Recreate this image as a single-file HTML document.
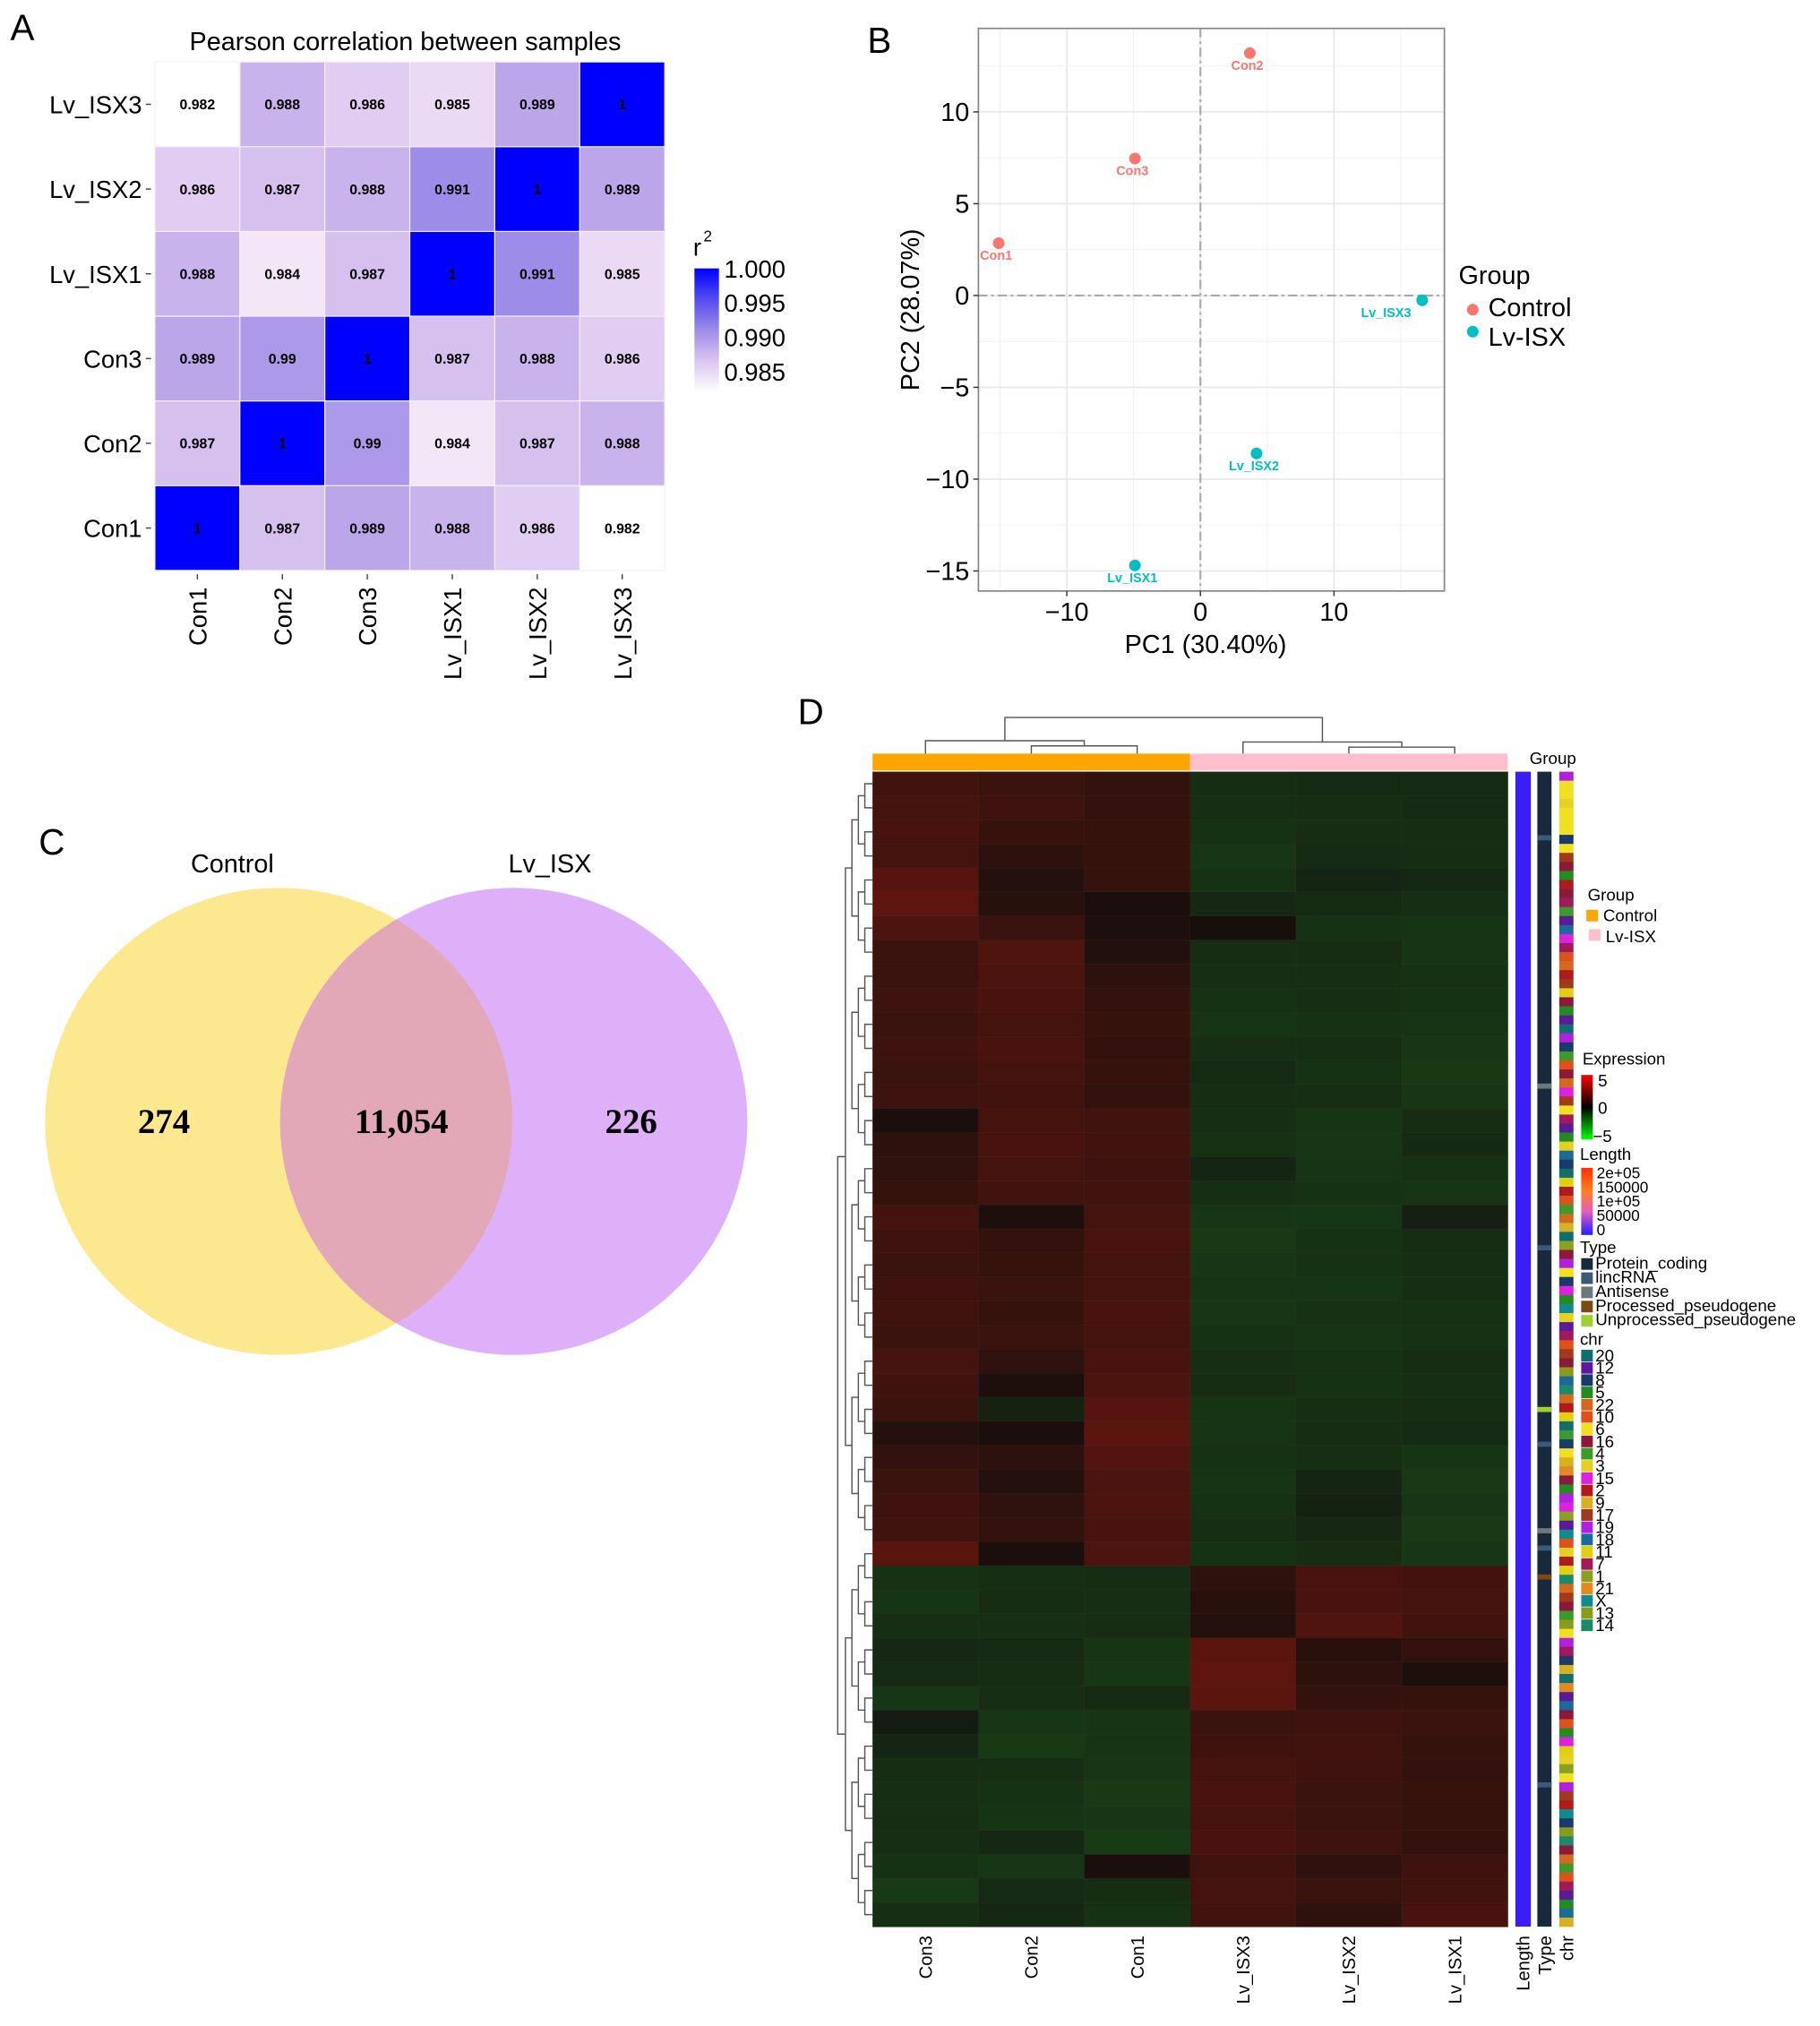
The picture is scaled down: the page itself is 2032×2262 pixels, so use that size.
<!DOCTYPE html>
<html><head><meta charset="utf-8"><style>
html,body{margin:0;padding:0;background:#fff}
svg{display:block}
text{font-family:"Liberation Sans",Arial,sans-serif}
</style></head><body>
<svg id="fig" xmlns="http://www.w3.org/2000/svg" width="2032" height="2262" viewBox="0 0 1410 1570" preserveAspectRatio="none">
<rect x="0" y="0" width="1410" height="1570" fill="#fff"/>
<g id="A"></g>
<g id="B"></g>
<g id="C"></g>
<g id="D"></g>
</svg>
<script>
// ---------- Panel A data ----------
const corrSamples = ["Con1","Con2","Con3","Lv_ISX1","Lv_ISX2","Lv_ISX3"];
const corrCon1 = [1,0.987,0.989,0.988,0.986,0.982];
const corrCon2 = [0.987,1,0.99,0.984,0.987,0.988];
const corrCon3 = [0.989,0.99,1,0.987,0.988,0.986];
const corrISX1 = [0.988,0.984,0.987,1,0.991,0.985];
const corrISX2 = [0.986,0.987,0.988,0.991,1,0.989];
const corrISX3 = [0.982,0.988,0.986,0.985,0.989,1];
const corrTicks = [1.000,0.995,0.990,0.985];
// ---------- Panel B data ----------
const pcaLabels = ["Con1","Con2","Con3","Lv_ISX1","Lv_ISX2","Lv_ISX3"];
const pcaX = [-15.1,3.7,-4.9,-4.9,4.2,16.6];
const pcaY = [2.85,13.2,7.46,-14.7,-8.6,-0.26];
const pcaGroup = ["Control","Control","Control","Lv-ISX","Lv-ISX","Lv-ISX"];
const pcaXTicks = [-10,0,10];
const pcaYTicks = [10,5,0,-5,-10,-15];
// ---------- Panel C data ----------
const vennSets = ["Control","Lv_ISX"];
const vennCounts = ["274","11,054","226"];
// ---------- Panel D data ----------
const hmSamples = ["Con3","Con2","Con1","Lv_ISX3","Lv_ISX2","Lv_ISX1"];
const hmRows = [
[1.2,1.0,0.8,-0.8,-0.7,-0.7],[1.3,1.1,0.8,-0.9,-0.8,-0.7],[1.4,0.9,0.9,-1.0,-0.8,-0.8],[1.3,0.6,0.9,-1.2,-0.7,-0.8],
[1.8,0.4,0.9,-1.0,-0.5,-0.6],[2.0,0.5,0.1,-0.6,-0.7,-0.9],[1.5,1.0,0.2,0.0,-1.0,-1.1],[1.0,1.6,0.3,-0.8,-0.8,-1.1],
[1.0,1.5,0.6,-0.9,-0.9,-1.0],[1.1,1.4,0.8,-1.0,-0.9,-1.0],[1.0,1.3,0.9,-1.1,-1.0,-1.1],[1.1,1.4,0.8,-0.9,-0.9,-1.2],
[1.0,1.3,0.9,-0.7,-1.0,-1.3],[1.1,1.2,0.8,-0.8,-0.9,-1.2],[0.1,1.3,1.2,-0.9,-1.1,-0.8],[0.6,1.4,1.2,-1.0,-1.2,-0.7],
[0.7,1.3,1.1,-0.5,-1.1,-1.0],[0.9,1.2,1.2,-0.9,-1.0,-1.1],[1.3,0.2,1.3,-1.2,-1.2,-0.3],[1.1,0.8,1.4,-1.3,-1.0,-0.8],
[1.0,0.9,1.3,-1.2,-1.0,-0.9],[1.1,1.0,1.3,-1.1,-1.1,-0.9],[1.2,0.9,1.4,-1.2,-1.0,-1.0],[1.0,1.0,1.3,-1.0,-1.1,-1.0],
[1.3,0.7,1.4,-0.9,-1.0,-0.8],[1.2,0.2,1.5,-0.8,-1.0,-0.9],[1.0,-0.4,1.8,-1.1,-0.9,-0.8],[0.4,0.1,1.9,-1.1,-0.8,-0.7],
[0.8,0.6,1.7,-1.0,-0.9,-1.1],[1.0,0.4,1.5,-1.1,-0.5,-1.3],[1.1,0.7,1.5,-1.0,-0.4,-1.2],[1.2,0.8,1.4,-0.9,-0.6,-1.3],
[1.9,0.1,1.5,-1.0,-0.8,-1.2],
[-1.0,-0.9,-0.8,0.6,1.4,1.2],[-1.1,-0.8,-0.9,0.5,1.4,1.3],[-0.9,-0.9,-0.8,0.4,1.6,1.2],[-0.6,-0.7,-1.1,1.9,0.5,0.8],
[-0.7,-0.8,-1.2,2.0,0.6,0.2],[-1.2,-0.9,-0.7,1.9,0.8,0.9],[-0.1,-1.2,-1.1,1.0,1.1,1.0],[-0.5,-1.3,-1.1,1.1,1.2,0.9],
[-0.8,-0.9,-1.2,1.3,1.1,0.8],[-0.9,-1.0,-1.3,1.4,1.0,0.9],[-0.8,-1.1,-1.2,1.3,1.0,0.9],[-0.9,-0.6,-1.4,1.4,1.1,0.8],
[-1.0,-1.2,0.1,1.2,0.7,1.1],[-1.3,-0.7,-0.8,1.3,1.0,1.2],[-0.9,-0.6,-1.0,1.2,0.6,1.4]];
const chrNames = ["20","12","8","5","22","10","6","16","4","3","15","2","9","17","19","18","11","7","1","21","X","13","14"];
const chrColors = ["#0f6f6f","#5a1a9a","#1a3a6a","#228b22","#d2691e","#e0501a","#f0e020","#8b1a3a","#3a9a2a","#e8d020","#e020e0","#b01a1a","#d8b020","#a03a1a","#b020e0","#1a6a9a","#e0d010","#a01a5a","#8aa020","#e08a20","#108a8a","#8a9a1a","#1a8a6a"];
const chrStrip = [14,6,6,9,6,6,6,2,6,13,7,3,11,7,17,8,1,15,10,17,5,4,11,13,16,7,3,1,0,14,2,8,5,7,4,10,13,6,17,1,3,9,15,2,0,16,11,5,8,4,12,0,18,7,14,6,2,10,3,20,9,1,17,5,13,7,21,15,22,4,11,16,0,8,2,6,12,19,7,3,14,10,18,1,20,5,9,11,16,22,4,13,7,8,21,6,14,17,2,12,0,19,1,15,7,5,3,10,16,9,18,6,14,13,11,20,2,21,22,7,4,8,5,17,1,3,15,12];
const typeStrip = ["lincRNA","Antisense","lincRNA","Unprocessed_pseudogene","lincRNA","Antisense","lincRNA","Processed_pseudogene","lincRNA"];
const typeStripPos = [0.055,0.27,0.41,0.55,0.58,0.655,0.67,0.695,0.875];
</script>
<script>
const NS="http://www.w3.org/2000/svg";
function mk(parent,tag,attrs,txt){const e=document.createElementNS(NS,tag);for(const k in attrs)e.setAttribute(k,attrs[k]);if(txt!==undefined)e.textContent=txt;parent.appendChild(e);return e;}
// ---------- Panel A ----------
(function(){
const g=document.getElementById('A');
const L=120,T=48,cw=65.83,ch=65.67;
const matrix=[corrCon1,corrCon2,corrCon3,corrISX1,corrISX2,corrISX3];
const vmin=0.982,vmax=1.0;
function col(v){let t=Math.max(0,Math.min(1,(v-vmin)/(vmax-vmin)));const r=Math.round(255*(1-Math.pow(t,1.4)));const gg=Math.round(255*Math.pow(1-t,0.87));const b=Math.round(255-22*Math.sin(Math.PI*t));return `rgb(${r},${gg},${b})`;}
const yS=i=>T+(5-i)*ch, xS=j=>L+j*cw;
let e=mk(g,'text',{x:8,y:31,'font-size':28},'A');
e=mk(g,'text',{x:314,y:39,'font-size':20,'text-anchor':'middle'},'Pearson correlation between samples');
for(let i=0;i<6;i++)for(let j=0;j<6;j++){const v=matrix[i][j];
 e=mk(g,'rect',{x:xS(j),y:yS(i),width:cw,height:ch,fill:col(v),stroke:'#f4f0fc','stroke-width':0.8});
 
 e=mk(g,'text',{x:xS(j)+cw/2,y:yS(i)+ch/2+4,'font-size':11,'font-weight':'bold','text-anchor':'middle'},v===1?'1':String(v));
 }
for(let i=0;i<6;i++){
 e=mk(g,'text',{x:110,y:yS(i)+ch/2+7,'font-size':19,'text-anchor':'end'},corrSamples[i]);
 mk(g,'line',{x1:113,x2:117,y1:yS(i)+ch/2,y2:yS(i)+ch/2,stroke:'#444','stroke-width':1});
 const cx=xS(i)+cw/2;
 mk(g,'line',{x1:cx,x2:cx,y1:445,y2:449,stroke:'#444','stroke-width':1});
 e=mk(g,'text',{x:0,y:0,'font-size':19,'text-anchor':'end',transform:`translate(${cx+7},455) rotate(-90)`},corrSamples[i]);}
const defs=mk(g,'defs',{});const lg=mk(defs,'linearGradient',{id:'rg',x1:0,y1:1,x2:0,y2:0});
[0,0.25,0.5,0.75,1].forEach(t=>mk(lg,'stop',{offset:t,'stop-color':col(vmin+t*(vmax-vmin))}));
const yL=v=>208+(1.0-v)/0.005*26.7;
e=mk(g,'rect',{x:538,y:yL(1.0),width:19,height:yL(vmin)-yL(1.0),fill:'url(#rg)'});
e=mk(g,'text',{x:537,y:198,'font-size':19},'r');
mk(g,'text',{x:545,y:187,'font-size':12},'2');
corrTicks.forEach(v=>{e=mk(g,'text',{x:561,y:yL(v)+7,'font-size':19},v.toFixed(3));});
})();
// ---------- Panel B ----------
(function(){
const g=document.getElementById('B');
const PL=758,PR=1119,PT=22,PB=458;
const xS=v=>930+v*10.35, yS=v=>229-v*14.23;
let e=mk(g,'text',{x:672,y:41,'font-size':28},'B');
mk(g,'rect',{x:PL,y:PT,width:PR-PL,height:PB-PT,fill:'#fff'});
for(let v=-15;v<=15;v+=5){const x=xS(v);if(x>PL&&x<PR)mk(g,'line',{x1:x,x2:x,y1:PT,y2:PB,stroke:v%10===0?'#e8e8e8':'#f2f2f2','stroke-width':v%10===0?1.2:0.8});}
for(let v=-15;v<=12.5;v+=2.5){const y=yS(v);if(y>PT&&y<PB)mk(g,'line',{x1:PL,x2:PR,y1:y,y2:y,stroke:v%5===0?'#e8e8e8':'#f2f2f2','stroke-width':v%5===0?1.2:0.8});}
mk(g,'line',{x1:xS(0),x2:xS(0),y1:PT,y2:PB,stroke:'#aaa','stroke-width':1.5,'stroke-dasharray':'7 3 2 3'});
mk(g,'line',{x1:PL,x2:PR,y1:yS(0),y2:yS(0),stroke:'#aaa','stroke-width':1.5,'stroke-dasharray':'7 3 2 3'});
e=mk(g,'rect',{x:PL,y:PT,width:PR-PL,height:PB-PT,fill:'none',stroke:'#888','stroke-width':1.2});
pcaXTicks.forEach(v=>{mk(g,'line',{x1:xS(v),x2:xS(v),y1:PB,y2:PB+4,stroke:'#333'});e=mk(g,'text',{x:xS(v),y:PB+23,'font-size':20,'text-anchor':'middle'},v<0?'\u2212'+(-v):String(v));});
pcaYTicks.forEach(v=>{mk(g,'line',{x1:PL-4,x2:PL,y1:yS(v),y2:yS(v),stroke:'#333'});e=mk(g,'text',{x:PL-7,y:yS(v)+7,'font-size':20,'text-anchor':'end'},v<0?'\u2212'+(-v):String(v));});
e=mk(g,'text',{x:934,y:506,'font-size':20,'text-anchor':'middle'},'PC1 (30.40%)');
e=mk(g,'text',{x:0,y:0,'font-size':20,'text-anchor':'middle',transform:'translate(712,240) rotate(-90)'},'PC2 (28.07%)');
const cmap={"Control":"#F8766D","Lv-ISX":"#00BFC4"};
for(let i=0;i<pcaX.length;i++){const x=xS(pcaX[i]),y=yS(pcaY[i]),c=cmap[pcaGroup[i]];
 e=mk(g,'circle',{cx:x,cy:y,r:4.5,fill:c});
 const right=x>PR-40;
 e=mk(g,'text',{x:right?x-28:x-2,y:y+13,'font-size':10,'font-weight':'bold','text-anchor':'middle',fill:c},pcaLabels[i]);}
e=mk(g,'text',{x:1130,y:220,'font-size':20},'Group');
e=mk(g,'circle',{cx:1141,cy:240,r:4.5,fill:cmap.Control});
e=mk(g,'text',{x:1153,y:245,'font-size':20},'Control');
e=mk(g,'circle',{cx:1141,cy:257,r:4.5,fill:cmap['Lv-ISX']});
e=mk(g,'text',{x:1153,y:268,'font-size':20},'Lv-ISX');
})();
// ---------- Panel C ----------
(function(){
const g=document.getElementById('C');
let e=mk(g,'text',{x:30,y:662,'font-size':28},'C');
const defs=mk(g,'defs',{});const cp=mk(defs,'clipPath',{id:'cpY'});mk(cp,'circle',{cx:216,cy:869,r:181});
e=mk(g,'circle',{cx:216,cy:869,r:181,fill:'#fce98f'});
e=mk(g,'circle',{cx:398,cy:869,r:181,fill:'#dfb0fa'});
e=mk(g,'circle',{cx:398,cy:869,r:181,fill:'#e2a8b8','clip-path':'url(#cpY)'});
e=mk(g,'text',{x:180,y:676,'font-size':20,'text-anchor':'middle'},vennSets[0]);
e=mk(g,'text',{x:426,y:676,'font-size':20,'text-anchor':'middle'},vennSets[1]);
[127,311,489].forEach((x,i)=>{e=mk(g,'text',{x:x,y:878,'font-size':27,'font-weight':'bold','text-anchor':'middle',style:'font-family:"Liberation Serif",serif'},vennCounts[i]);});
})();
// ---------- Panel D ----------
(function(){
const g=document.getElementById('D');
const L=676,R=1168,T=598,B=1493;
const cw=(R-L)/hmSamples.length, rh=(B-T)/hmRows.length;
function col(v){if(v>=0)return `rgb(${Math.round(22+36*v)},${Math.round(15+3*v)},${Math.round(12+1.5*v)})`;const a=-v;return `rgb(${Math.round(20+2*a)},${Math.round(24+26*a)},${Math.round(17+3*a)})`;}
let e=mk(g,'text',{x:618,y:561,'font-size':28},'D');
e=mk(g,'rect',{x:L,y:584,width:cw*3,height:13,fill:'#FFA500'});
e=mk(g,'rect',{x:L+cw*3,y:584,width:cw*3,height:13,fill:'#FFC0CB'});
for(let i=0;i<hmRows.length;i++)for(let j=0;j<6;j++){e=mk(g,'rect',{x:L+j*cw,y:T+i*rh,width:cw+0.3,height:rh+0.3,fill:col(hmRows[i][j]),stroke:'#4a3a30','stroke-width':0.25,'stroke-opacity':0.5});}
hmSamples.forEach((s,j)=>{e=mk(g,'text',{x:0,y:0,'font-size':14,'text-anchor':'end',transform:`translate(${L+j*cw+cw/2+5},1500) rotate(-90)`},s);});
const cx=j=>L+j*cw+cw/2;
const dp='stroke:#555;stroke-width:1;fill:none';
function br(x1,x2,y,ya,yb){mk(g,'path',{d:`M${x1},${ya}V${y}H${x2}V${yb}`,style:dp});}
br(cx(1),cx(2),578,584,584);br(cx(0),(cx(1)+cx(2))/2,574,584,578);
br(cx(4),cx(5),579,584,584);br(cx(3),(cx(4)+cx(5))/2,575,584,579);
br((cx(0)+(cx(1)+cx(2))/2)/2,(cx(3)+(cx(4)+cx(5))/2)/2,556,574,575);
const ry=i=>T+i*rh+rh/2;
for(let i=0;i<hmRows.length;i+=2){const a=ry(i),b=ry(Math.min(i+1,hmRows.length-1));mk(g,'path',{d:`M${L},${a}H${670}V${b}H${L}`,style:dp});}
const mids=[];for(let i=0;i<hmRows.length;i+=4){const a=(ry(i)+ry(i+1))/2,b=(ry(Math.min(i+2,47))+ry(Math.min(i+3,47)))/2;mk(g,'path',{d:`M670,${a}H665V${b}H670`,style:dp});mids.push((a+b)/2);}
const m2=[];for(let k=0;k<mids.length;k+=2){const a=mids[k],b=mids[Math.min(k+1,mids.length-1)];mk(g,'path',{d:`M665,${a}H660V${b}H665`,style:dp});m2.push((a+b)/2);}
const topC=(m2[0]+m2[3])/2, botC=(m2[4]+m2[5])/2;
mk(g,'path',{d:`M660,${m2[0]}H655V${m2[3]}H660`,style:dp});
mk(g,'path',{d:`M660,${m2[4]}H655V${m2[5]}H660`,style:dp});
mk(g,'path',{d:`M655,${topC}H649V${botC}H655`,style:dp});
e=mk(g,'rect',{x:1174,y:T,width:12,height:B-T,fill:'#3a1ef5'});
e=mk(g,'rect',{x:1191,y:T,width:11,height:B-T,fill:'#17293a'});
const tcol={"lincRNA":"#3a5a7a","Antisense":"#6a7a7a","Processed_pseudogene":"#7a4a10","Unprocessed_pseudogene":"#a0d030"};
typeStrip.forEach((t,i)=>{if(t){mk(g,'rect',{x:1191,y:T+typeStripPos[i]*(B-T),width:11,height:4,fill:tcol[t]});}});
const sh=(B-T)/chrStrip.length;
chrStrip.forEach((c,i)=>{e=mk(g,'rect',{x:1208,y:T+i*sh,width:11,height:sh+0.2,fill:chrColors[c]});});
["Length","Type","chr"].forEach((s,i)=>{e=mk(g,'text',{x:0,y:0,'font-size':14,'text-anchor':'end',transform:`translate(${[1185,1202,1219][i]},1500) rotate(-90)`},s);});
e=mk(g,'text',{x:1185,y:592,'font-size':13},'Group');
mk(g,'text',{x:1230,y:698,'font-size':13},'Group');
mk(g,'rect',{x:1229,y:705,width:9,height:9,fill:'#FFA500'});e=mk(g,'text',{x:1242,y:714,'font-size':13},'Control');
mk(g,'rect',{x:1231,y:720,width:9,height:9,fill:'#FFC0CB'});e=mk(g,'text',{x:1244,y:730,'font-size':13},'Lv-ISX');
const defs=mk(g,'defs',{});
const ge=mk(defs,'linearGradient',{id:'ge',x1:0,y1:0,x2:0,y2:1});mk(ge,'stop',{offset:0,'stop-color':'#ff0000'});mk(ge,'stop',{offset:0.5,'stop-color':'#000'});mk(ge,'stop',{offset:1,'stop-color':'#00ff00'});
const gl=mk(defs,'linearGradient',{id:'gl',x1:0,y1:0,x2:0,y2:1});mk(gl,'stop',{offset:0,'stop-color':'#ff3000'});mk(gl,'stop',{offset:0.35,'stop-color':'#ff8020'});mk(gl,'stop',{offset:0.65,'stop-color':'#e060c0'});mk(gl,'stop',{offset:1,'stop-color':'#2020ff'});
mk(g,'text',{x:1226,y:825,'font-size':13},'Expression');
e=mk(g,'rect',{x:1225,y:833,width:9,height:50,fill:'url(#ge)'});
mk(g,'text',{x:1238,y:842,'font-size':13},'5');mk(g,'text',{x:1238,y:863,'font-size':13},'0');mk(g,'text',{x:1234,y:885,'font-size':13},'\u22125');
mk(g,'text',{x:1224,y:899,'font-size':13},'Length');
e=mk(g,'rect',{x:1225,y:905,width:9,height:52,fill:'url(#gl)'});
["2e+05","150000","1e+05","50000","0"].forEach((s,i)=>mk(g,'text',{x:1237,y:913+i*11,'font-size':12},s));
mk(g,'text',{x:1224,y:971,'font-size':13},'Type');
[["Protein_coding","#17293a"],["lincRNA","#3a5a7a"],["Antisense","#6a7a7a"],["Processed_pseudogene","#7a4a10"],["Unprocessed_pseudogene","#a0d030"]].forEach((t,i)=>{mk(g,'rect',{x:1225,y:975+i*11,width:9,height:9,fill:t[1]});e=mk(g,'text',{x:1236,y:983+i*11,'font-size':13},t[0]);});
mk(g,'text',{x:1224,y:1042,'font-size':13},'chr');
chrNames.forEach((n,i)=>{mk(g,'rect',{x:1225,y:1046+i*9.5,width:9,height:9,fill:chrColors[i]});e=mk(g,'text',{x:1236,y:1055+i*9.5,'font-size':13},n);});
})();
</script>
</body></html>
